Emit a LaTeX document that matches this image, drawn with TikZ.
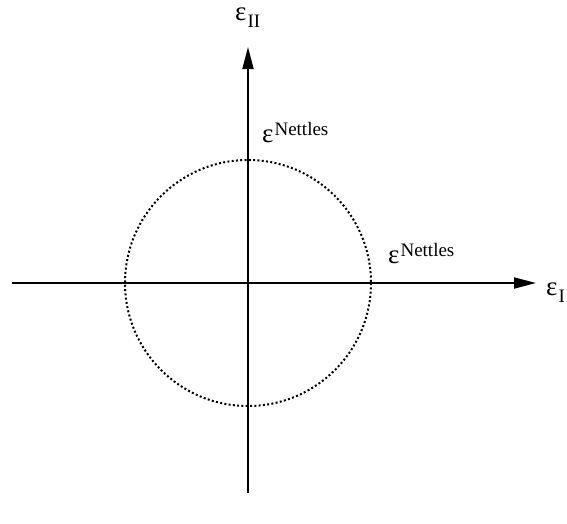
\documentclass[tikz,border=0pt]{standalone}
\usepackage{fontspec}
\setmainfont{Liberation Serif}
\usetikzlibrary{arrows.meta, positioning}

\newcommand{\hochgestellt}[1]{\raisebox{7pt}{\fontsize{19}{20}\selectfont #1}}
\newcommand{\tiefgestellt}[1]{\raisebox{-7pt}{\fontsize{19}{20}\selectfont #1}}

\begin{document}
\begin{tikzpicture}[x=1pt, y=-1pt,
    achse/.style={line width=1.8pt, -{Triangle[length=22pt, width=11pt]}},
    bezeichnung/.style={font=\fontsize{27}{29}\selectfont, inner sep=0pt}]
  \useasboundingbox (0,0) rectangle (567,523);

  % --- Achsen ---
  \coordinate (links) at (12,283);
  \coordinate (rechts) at (536,283);
  \coordinate (unten) at (248,493);
  \coordinate (oben) at (248,47);
  \draw[achse] (links) -- (rechts);
  \draw[achse] (unten) -- (oben);

  % --- Grenzkreis (gepunktet) ---
  \coordinate (mitte) at (248,283);
  \draw[line width=2pt, dash pattern=on 2pt off 2.3pt] (mitte) circle (123);

  % --- Beschriftungen ---
  \node[bezeichnung, anchor=base west] (epsII) at (235,20)
    {ε\kern1pt\tiefgestellt{II}};
  \node[bezeichnung, anchor=base west] (epsI) at (546,295)
    {ε\kern1pt\tiefgestellt{I}};
  \node[bezeichnung, anchor=base west] (nettlesOben) at (262,142)
    {ε\kern1pt\hochgestellt{Nettles}};
  \node[bezeichnung, anchor=base west] (nettlesRechts) at (388,263)
    {ε\kern1pt\hochgestellt{Nettles}};
\end{tikzpicture}
\end{document}
